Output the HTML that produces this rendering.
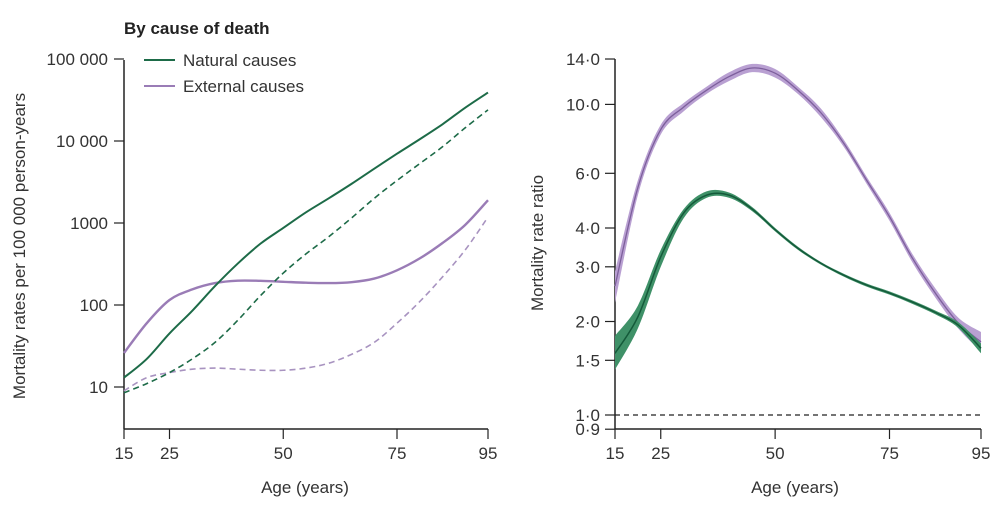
<!DOCTYPE html>
<html><head><meta charset="utf-8"><style>
body{margin:0;background:#fff;}
svg{display:block;font-family:"Liberation Sans",sans-serif;}
</style></head><body>
<svg id="c" width="1003" height="510" viewBox="0 0 1003 510"></svg>
<script>
const ages=[15,20,25,30,35,40,45,50,55,60,65,70,75,80,85,90,95];
const natSolid=[13,22,45,85,170,320,560,870,1350,2000,3000,4600,7000,10500,16000,25500,39000];
const natDash=[8.5,11,15,22,35,65,130,245,420,680,1150,2000,3300,5300,8500,14500,24000];
const extSolid=[26,60,115,155,185,198,197,192,187,185,190,210,265,370,570,950,1900];
const extDash=[9,13,15,16.5,17,16.5,16,16,17,19.5,25,35,60,110,220,470,1180];
const rAges=[15,20,25,30,35,40,45,50,55,60,65,70,75,80,85,90,95];
const rExt=[2.6,5.4,8.3,9.8,11.1,12.3,13.1,12.6,11.1,9.4,7.5,5.7,4.35,3.2,2.47,1.98,1.72];
const rExtLo=[2.3,5.1,8.0,9.5,10.8,11.9,12.7,12.2,10.8,9.1,7.3,5.55,4.22,3.1,2.39,1.9,1.6];
const rExtHi=[2.9,5.7,8.6,10.1,11.4,12.7,13.5,13.0,11.4,9.7,7.7,5.85,4.48,3.3,2.56,2.06,1.85];
const rNat=[1.58,2.07,3.23,4.47,5.1,5.1,4.6,3.95,3.44,3.08,2.82,2.62,2.47,2.31,2.14,1.95,1.64];
const rNatLo=[1.4,1.9,3.0,4.3,5.0,5.0,4.53,3.9,3.4,3.05,2.79,2.59,2.44,2.28,2.11,1.91,1.58];
const rNatHi=[1.8,2.25,3.4,4.6,5.25,5.2,4.67,4.0,3.48,3.11,2.85,2.65,2.5,2.34,2.17,1.99,1.7];
const leftTicks=[[100000,"100 000"],[10000,"10 000"],[1000,"1000"],[100,"100"],[10,"10"]];
const rightTicks=[[14,"14·0"],[10,"10·0"],[6,"6·0"],[4,"4·0"],[3,"3·0"],[2,"2·0"],[1.5,"1·5"],[1,"1·0"],[0.9,"0·9"]];
const xTicks=[15,25,50,75,95];

const G="#1d6b48",P="#9a7cb6";
const svg=document.getElementById('c');
const NS="http://www.w3.org/2000/svg";
function el(t,a,txt){const e=document.createElementNS(NS,t);for(const k in a)e.setAttribute(k,a[k]);if(txt!=null)e.textContent=txt;svg.appendChild(e);return e;}
const lx=a=>124+(a-15)*(364/80);
const ly=v=>387-82*Math.log10(v/10);
const rx=a=>615+(a-15)*(366/80);
const ry=v=>415-310.6*Math.log10(v);
function spline(pts){let d="M"+pts[0][0]+","+pts[0][1];for(let i=0;i<pts.length-1;i++){const p0=pts[Math.max(0,i-1)],p1=pts[i],p2=pts[i+1],p3=pts[Math.min(pts.length-1,i+2)];const c1=[p1[0]+(p2[0]-p0[0])/6,p1[1]+(p2[1]-p0[1])/6],c2=[p2[0]-(p3[0]-p1[0])/6,p2[1]-(p3[1]-p1[1])/6];d+=`C${c1[0]},${c1[1]} ${c2[0]},${c2[1]} ${p2[0]},${p2[1]}`;}return d;}
function pts(xs,vs,fx,fy){return xs.map((a,i)=>[fx(a),fy(vs[i])]);}
function band(xs,lo,hi,fx,fy){const up=pts(xs,hi,fx,fy),dn=pts(xs,lo,fx,fy).reverse();return spline(up)+"L"+spline(dn).slice(1)+"Z";}

el('text',{x:124,y:34,'font-size':17,'font-weight':'bold',fill:'#222',},'By cause of death');
el('line',{x1:144,y1:60,x2:175,y2:60,stroke:G,'stroke-width':2,});
el('text',{x:183,y:66,'font-size':17,fill:'#333',},'Natural causes');
el('line',{x1:144,y1:86,x2:175,y2:86,stroke:P,'stroke-width':2,});
el('text',{x:183,y:92,'font-size':17,fill:'#333',},'External causes');

el('line',{x1:124,y1:60,x2:124,y2:429,stroke:'#222','stroke-width':1.5,});
el('line',{x1:124,y1:429,x2:488,y2:429,stroke:'#222','stroke-width':1.5,});
leftTicks.forEach(t=>{el('line',{x1:114,y1:ly(t[0]),x2:124,y2:ly(t[0]),stroke:'#222','stroke-width':1.2,});
 el('text',{x:108,y:ly(t[0])+6,'font-size':17,'text-anchor':'end',fill:'#333',},t[1]);});
xTicks.forEach(a=>{el('line',{x1:lx(a),y1:429,x2:lx(a),y2:439,stroke:'#222','stroke-width':1.2,});
 el('text',{x:lx(a),y:459,'font-size':17,'text-anchor':'middle',fill:'#333',},a);});
el('text',{x:305,y:493,'font-size':17,'text-anchor':'middle',fill:'#333',},'Age (years)');
el('text',{transform:'translate(25,246) rotate(-90)','font-size':17,'text-anchor':'middle',fill:'#333',},'Mortality rates per 100 000 person-years');

el('path',{d:spline(pts(ages,extSolid,lx,ly)),fill:'none',stroke:P,'stroke-width':2.4,});
el('path',{d:spline(pts(ages,extDash,lx,ly)),fill:'none',stroke:'#a893c0','stroke-width':1.6,'stroke-dasharray':'6,4',});
el('path',{d:spline(pts(ages,natDash,lx,ly)),fill:'none',stroke:G,'stroke-width':1.6,'stroke-dasharray':'6,4',});
el('path',{d:spline(pts(ages,natSolid,lx,ly)),fill:'none',stroke:G,'stroke-width':2,});

el('line',{x1:615,y1:59,x2:615,y2:429,stroke:'#222','stroke-width':1.5,});
el('line',{x1:615,y1:429,x2:981,y2:429,stroke:'#222','stroke-width':1.5,});
el('line',{x1:615,y1:ry(1),x2:981,y2:ry(1),stroke:'#222','stroke-width':1.3,'stroke-dasharray':'5,4',});
rightTicks.forEach(t=>{el('line',{x1:605,y1:ry(t[0]),x2:615,y2:ry(t[0]),stroke:'#222','stroke-width':1.2,});
 el('text',{x:600,y:ry(t[0])+6,'font-size':17,'text-anchor':'end',fill:'#333',},t[1]);});
xTicks.forEach(a=>{el('line',{x1:rx(a),y1:429,x2:rx(a),y2:439,stroke:'#222','stroke-width':1.2,});
 el('text',{x:rx(a),y:459,'font-size':17,'text-anchor':'middle',fill:'#333',},a);});
el('text',{x:795,y:493,'font-size':17,'text-anchor':'middle',fill:'#333',},'Age (years)');
el('text',{transform:'translate(543,243) rotate(-90)','font-size':17,'text-anchor':'middle',fill:'#333',},'Mortality rate ratio');

el('path',{d:band(rAges,rExtLo,rExtHi,rx,ry),fill:'#b9a0d2',});
el('path',{d:spline(pts(rAges,rExt,rx,ry)),fill:'none',stroke:'#7d5f9c','stroke-width':1.3,});
el('path',{d:band(rAges,rNatLo,rNatHi,rx,ry),fill:'#3f9168',});
el('path',{d:spline(pts(rAges,rNat,rx,ry)),fill:'none',stroke:'#145a3a','stroke-width':1.5,});
</script>
</body></html>
